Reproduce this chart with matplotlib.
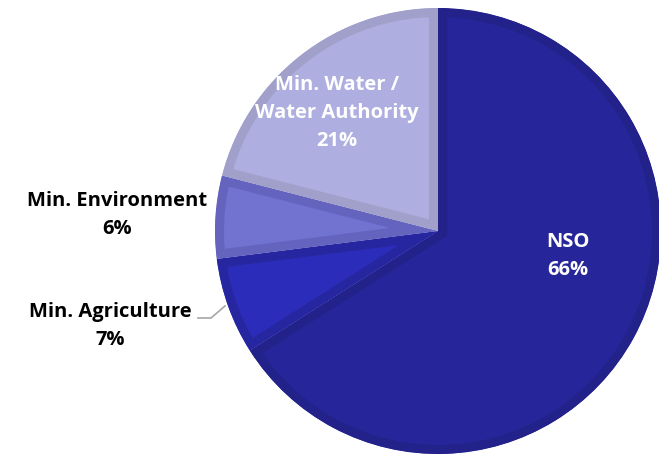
import matplotlib
import matplotlib.pyplot as plt

matplotlib.use('Agg')

labels = ["NSO", "Min. Agriculture", "Min. Environment", "Min. Water /\nWater Authority"]
shares = [66, 7, 6, 21]
fills = ["#26269a", "#2c2cba", "#7272d0", "#aeaee0"]
borders = ["#22228a", "#2626a0", "#6464bf", "#a0a0ca"]

W, H = 659, 455
fig = plt.figure(figsize=(W / 100, H / 100), dpi=100)
ax = fig.add_axes([0, 0, 1, 1])

cx, cy, r = 438, H - 231, 223
wedges, _ = ax.pie(shares, colors=fills, startangle=90, counterclock=False,
                   center=(cx, cy), radius=r, frame=True)
ax.set_xlim(0, W)
ax.set_ylim(0, H)
ax.set_aspect('equal')
ax.axis('off')

# bevel-like inner border: stroke clipped to the wedge itself
for w, b in zip(wedges, borders):
    w.set_edgecolor(b)
    w.set_linewidth(13)
    w.set_clip_on(True)
    w.set_clip_path(w)

font = dict(family=['Open Sans', 'DejaVu Sans'], fontweight='bold', fontsize=14.5,
            ha='center', va='center', linespacing=1.55)

ax.text(568, H - 256, f"{labels[0]}\n{shares[0]}%", color='white', **font)
ax.text(337, H - 113, f"{labels[3]}\n{shares[3]}%", color='white', **font)
ax.text(117, H - 215, f"{labels[2]}\n{shares[2]}%", color='black', **font)
ax.text(110, H - 326, f"{labels[1]}\n{shares[1]}%", color='black', **font)

# leader line for the agriculture label
ax.plot([198, 211, 225], [H - 318, H - 318, H - 306], color='#a6a6a6', lw=1.2)

fig.savefig("out.png", dpi=100)
